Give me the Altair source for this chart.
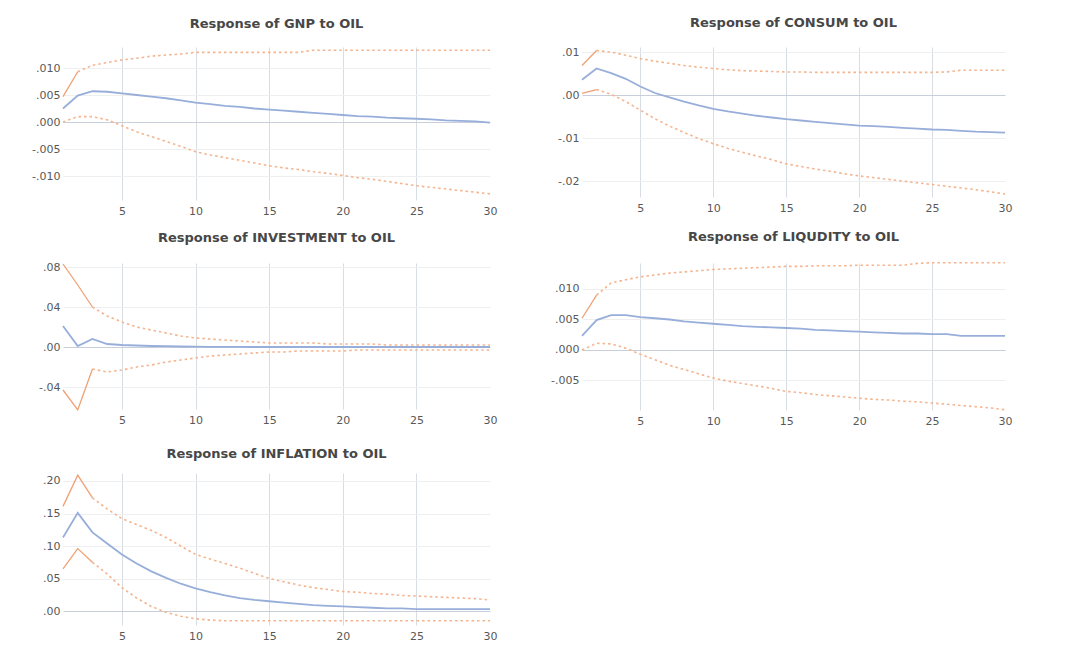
import altair as alt
import pandas as pd

periods = list(range(1, 31))

# ---- GNP ----
gnp_resp = [0.0025, 0.0049, 0.0057, 0.0056, 0.0053, 0.0050, 0.0047, 0.0044, 0.0040, 0.0036,
            0.0033, 0.0030, 0.0028, 0.0025, 0.0023, 0.0021, 0.0019, 0.0017, 0.0015, 0.0013,
            0.0011, 0.0010, 0.0008, 0.0007, 0.0006, 0.0005, 0.0003, 0.0002, 0.0001, -0.0001]
gnp_upper = [0.0047, 0.0093, 0.0105, 0.0110, 0.0115, 0.0118, 0.0122, 0.0124, 0.0126, 0.0129,
             0.0129, 0.0129, 0.0129, 0.0129, 0.0129, 0.0129, 0.0129, 0.0133, 0.0133, 0.0133,
             0.0133, 0.0133, 0.0133, 0.0133, 0.0133, 0.0133, 0.0133, 0.0133, 0.0133, 0.0133]
gnp_lower = [0.0000, 0.0010, 0.0010, 0.0004, -0.0007, -0.0018, -0.0027, -0.0036, -0.0045, -0.0055,
             -0.0061, -0.0066, -0.0071, -0.0076, -0.0081, -0.0085, -0.0088, -0.0092, -0.0095, -0.0099,
             -0.0103, -0.0106, -0.0110, -0.0114, -0.0118, -0.0121, -0.0124, -0.0127, -0.0130, -0.0133]

# ---- CONSUM ----
consum_resp = [0.0036, 0.0062, 0.0051, 0.0038, 0.0020, 0.0005, -0.0005, -0.0015, -0.0024, -0.0032,
               -0.0038, -0.0043, -0.0048, -0.0052, -0.0056, -0.0059, -0.0062, -0.0065, -0.0068, -0.0071,
               -0.0072, -0.0074, -0.0076, -0.0078, -0.0080, -0.0081, -0.0083, -0.0085, -0.0086, -0.0087]
consum_upper = [0.0069, 0.0104, 0.0100, 0.0093, 0.0085, 0.0079, 0.0074, 0.0069, 0.0065, 0.0062,
                0.0059, 0.0057, 0.0056, 0.0055, 0.0054, 0.0054, 0.0053, 0.0053, 0.0053, 0.0053,
                0.0053, 0.0053, 0.0053, 0.0053, 0.0053, 0.0054, 0.0058, 0.0058, 0.0058, 0.0058]
consum_lower = [0.0004, 0.0013, 0.0002, -0.0015, -0.0035, -0.0055, -0.0072, -0.0087, -0.0101, -0.0113,
                -0.0124, -0.0133, -0.0142, -0.0150, -0.0160, -0.0166, -0.0172, -0.0177, -0.0183, -0.0188,
                -0.0192, -0.0196, -0.0200, -0.0204, -0.0208, -0.0212, -0.0216, -0.0220, -0.0225, -0.0230]

# ---- INVESTMENT ----
invest_resp = [0.021, 0.001, 0.008, 0.003, 0.002, 0.0015, 0.001, 0.0008, 0.0005, 0.0003,
               0.0002, 0.0001, 0.0001, 0.0, 0.0, 0.0, 0.0, 0.0, 0.0, 0.0,
               0.0, 0.0, 0.0, 0.0, 0.0, 0.0, 0.0, 0.0, 0.0, 0.0]
invest_upper = [0.083, 0.062, 0.040, 0.031, 0.025, 0.020, 0.017, 0.014, 0.011, 0.009,
                0.008, 0.007, 0.006, 0.005, 0.004, 0.004, 0.004, 0.004, 0.003, 0.003,
                0.003, 0.003, 0.002, 0.002, 0.002, 0.002, 0.002, 0.002, 0.002, 0.002]
invest_lower = [-0.043, -0.063, -0.022, -0.025, -0.023, -0.020, -0.018, -0.015, -0.013, -0.011,
                -0.009, -0.008, -0.007, -0.006, -0.005, -0.005, -0.004, -0.004, -0.004, -0.004,
                -0.003, -0.003, -0.003, -0.003, -0.003, -0.003, -0.003, -0.003, -0.003, -0.003]

# ---- LIQUDITY ----
liq_resp = [0.0023, 0.0049, 0.0057, 0.0057, 0.0054, 0.0052, 0.0050, 0.0047, 0.0045, 0.0043,
            0.0041, 0.0039, 0.0038, 0.0037, 0.0036, 0.0035, 0.0033, 0.0032, 0.0031, 0.0030,
            0.0029, 0.0028, 0.0027, 0.0027, 0.0026, 0.0026, 0.0023, 0.0023, 0.0023, 0.0023]
liq_upper = [0.0052, 0.0090, 0.0110, 0.0115, 0.0120, 0.0123, 0.0126, 0.0128, 0.0130, 0.0132,
             0.0133, 0.0134, 0.0135, 0.0136, 0.0137, 0.0137, 0.0138, 0.0138, 0.0138, 0.0139,
             0.0139, 0.0139, 0.0139, 0.0142, 0.0143, 0.0143, 0.0143, 0.0143, 0.0143, 0.0143]
liq_lower = [0.0000, 0.0011, 0.0010, 0.0003, -0.0007, -0.0016, -0.0025, -0.0032, -0.0039, -0.0046,
             -0.0051, -0.0055, -0.0059, -0.0063, -0.0068, -0.0070, -0.0073, -0.0075, -0.0077, -0.0079,
             -0.0081, -0.0082, -0.0084, -0.0085, -0.0087, -0.0089, -0.0091, -0.0093, -0.0095, -0.0098]

# ---- INFLATION ----
infl_resp = [0.113, 0.151, 0.121, 0.104, 0.087, 0.073, 0.061, 0.051, 0.042, 0.035,
             0.029, 0.024, 0.020, 0.017, 0.015, 0.013, 0.011, 0.009, 0.008, 0.007,
             0.006, 0.005, 0.004, 0.004, 0.003, 0.003, 0.003, 0.003, 0.003, 0.003]
infl_upper = [0.161, 0.209, 0.174, 0.157, 0.142, 0.133, 0.124, 0.113, 0.100, 0.087,
              0.080, 0.073, 0.066, 0.058, 0.050, 0.045, 0.040, 0.036, 0.033, 0.030,
              0.029, 0.027, 0.026, 0.024, 0.023, 0.022, 0.021, 0.020, 0.019, 0.017]
infl_lower = [0.065, 0.096, 0.075, 0.057, 0.036, 0.020, 0.007, -0.002, -0.008, -0.012,
              -0.014, -0.015, -0.015, -0.015, -0.015, -0.015, -0.015, -0.015, -0.015, -0.015,
              -0.015, -0.015, -0.015, -0.015, -0.015, -0.015, -0.015, -0.015, -0.015, -0.015]

x_ticks = [5, 10, 15, 20, 25, 30]

BLUE = "#98AEDA"
ORANGE = "#F4B48E"
ORANGE_SOLID = "#F0A074"
FONT = "DejaVu Sans"


def make_panel(title, resp, upper, lower, solid_up, solid_lo, domain, ticks, fmt, width, height,
               title_offset=16):
    rows = []
    for i, x in enumerate(periods):
        rows.append({"x": x, "v": resp[i], "s": "resp", "kind": "resp"})
        if x <= solid_up:
            rows.append({"x": x, "v": upper[i], "s": "upper_solid", "kind": "solid"})
        if x >= solid_up:
            rows.append({"x": x, "v": upper[i], "s": "upper_dash", "kind": "dash"})
        if x <= solid_lo:
            rows.append({"x": x, "v": lower[i], "s": "lower_solid", "kind": "solid"})
        if x >= solid_lo:
            rows.append({"x": x, "v": lower[i], "s": "lower_dash", "kind": "dash"})
    df = pd.DataFrame(rows)

    xenc = alt.X(
        "x:Q",
        scale=alt.Scale(domain=[1, 30], nice=False, zero=False),
        axis=alt.Axis(
            values=x_ticks, title=None, domain=False, ticks=False, labelPadding=5,
            labelFlush=False,
            gridColor="#D8DCE3",
            gridOpacity={"condition": {"test": "datum.value === 30", "value": 0}, "value": 1},
        ),
    )
    yenc = alt.Y(
        "v:Q",
        scale=alt.Scale(domain=domain, nice=False, zero=False),
        axis=alt.Axis(
            values=ticks, title=None, domain=False, ticks=False, labelPadding=3,
            labelFlush=False,
            labelExpr="replace(replace(format(datum.value, '" + fmt + "'), '\u2212', '-'), '0.', '.')",
            gridColor={"condition": {"test": "datum.value === 0", "value": "#C9CFDA"}, "value": "#EFEFEF"},
        ),
    )
    base = alt.Chart(df).encode(x=xenc, y=yenc)
    dash = base.transform_filter("datum.kind == 'dash'").mark_line(
        color=ORANGE, strokeWidth=1.6, strokeDash=[2.5, 3]
    ).encode(detail="s:N")
    solid = base.transform_filter("datum.kind == 'solid'").mark_line(
        color=ORANGE_SOLID, strokeWidth=1.3
    ).encode(detail="s:N")
    line = base.transform_filter("datum.kind == 'resp'").mark_line(color=BLUE, strokeWidth=1.8)
    return alt.layer(dash, solid, line).properties(
        width=width, height=height,
        title=alt.TitleParams(title, fontSize=13, font=FONT, fontWeight="bold",
                              color="#474747", offset=title_offset),
    )


gnp = make_panel("Response of GNP to OIL", gnp_resp, gnp_upper, gnp_lower, 2, 1,
                 [-0.01444, 0.01389], [-0.01, -0.005, 0.0, 0.005, 0.01], ".3f", 427, 153)
consum = make_panel("Response of CONSUM to OIL", consum_resp, consum_upper, consum_lower, 2, 2,
                    [-0.0237, 0.0112], [-0.02, -0.01, 0.0, 0.01], ".2f", 423, 150)
invest = make_panel("Response of INVESTMENT to OIL", invest_resp, invest_upper, invest_lower, 3, 3,
                    [-0.062, 0.084], [-0.04, 0.0, 0.04, 0.08], ".2f", 427, 146)
liq = make_panel("Response of LIQUDITY to OIL", liq_resp, liq_upper, liq_lower, 2, 1,
                 [-0.00984, 0.01426], [-0.005, 0.0, 0.005, 0.01], ".3f", 423, 147)
infl = make_panel("Response of INFLATION to OIL", infl_resp, infl_upper, infl_lower, 3, 3,
                  [-0.0215, 0.2123], [0.0, 0.05, 0.1, 0.15, 0.2], ".2f", 427, 152,
                  title_offset=12)

chart = alt.concat(
    gnp, consum, invest, liq, infl,
    columns=2, spacing={"row": 63, "column": 92}, bounds="flush",
).properties(
    padding={"left": 23, "top": 9, "right": 5, "bottom": 5},
    background="white",
).configure_view(
    stroke=None
).configure_axis(
    labelFont=FONT, labelFontSize=11, labelColor="#595959",
).configure_title(
    anchor="middle",
)

chart.save("out.html", embed_options={"renderer": "svg", "actions": False})
